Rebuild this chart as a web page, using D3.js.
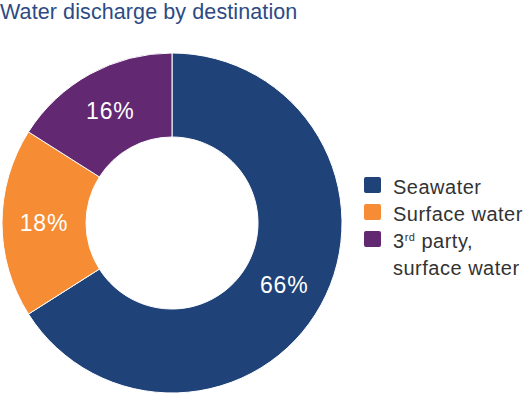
<!DOCTYPE html>
<html>
<head>
<meta charset="utf-8">
<script src="https://cdn.jsdelivr.net/npm/d3@7"></script>
<style>
  body { margin: 0; background: #fff; }
  svg { display: block; font-family: "Liberation Sans", Arial, sans-serif; }
</style>
</head>
<body>
<svg id="chart" width="525" height="395"></svg>
<script>
const categories = ["Seawater", "Surface water", "3rd party, surface water"];
const shares = [66, 18, 16];
const colors = ["#1f4279", "#f68c33", "#622871"];

const svg = d3.select("#chart");

svg.append("text")
  .attr("x", 0)
  .attr("y", 19)
  .attr("fill", "#2c4b85")
  .style("font-size", "21.5px")
  .style("letter-spacing", "0.1px")
  .text("Water discharge by destination");

const cx = 172, cy = 223, outerR = 170, innerR = 86;

const createPie = d3.pie().value(d => d.value).sort(null);
const createArc = d3.arc().innerRadius(innerR).outerRadius(outerR);
const labelArc = d3.arc().innerRadius(128).outerRadius(128);

const data = createPie(categories.map((c, i) => ({ name: c, value: shares[i] })));

const g = svg.append("g").attr("transform", `translate(${cx},${cy})`);

g.selectAll("path.arc")
  .data(data)
  .join("path")
  .attr("class", "arc")
  .attr("d", createArc)
  .attr("fill", (d, i) => colors[i])
  .attr("stroke", "#fff")
  .attr("stroke-width", 1);

g.selectAll("text.lbl")
  .data(data)
  .join("text")
  .attr("class", "lbl")
  .attr("transform", d => `translate(${labelArc.centroid(d)})`)
  .attr("text-anchor", "middle")
  .attr("dy", "0.36em")
  .attr("fill", "#fff")
  .style("font-size", "23px")
  .style("letter-spacing", "0.8px")
  .text(d => d.value + "%");

// legend
const legend = svg.append("g").attr("transform", "translate(364,177)");
const rowH = 27;

legend.selectAll("rect")
  .data(categories)
  .join("rect")
  .attr("x", 0)
  .attr("y", (d, i) => i * rowH)
  .attr("width", 17)
  .attr("height", 16)
  .attr("rx", 2)
  .attr("fill", (d, i) => colors[i]);

const legText = legend.selectAll("text")
  .data(categories)
  .join("text")
  .attr("x", 29)
  .attr("y", (d, i) => i * rowH + 17)
  .attr("fill", "#333")
  .style("font-size", "20px")
  .style("letter-spacing", "0.5px");

legText.each(function(d, i) {
  const t = d3.select(this);
  if (i === 2) {
    t.append("tspan").text("3");
    t.append("tspan").attr("dy", -7).style("font-size", "11px").text("rd");
    t.append("tspan").attr("dy", 7).text(" party,");
    t.append("tspan").attr("x", 29).attr("dy", 27).text("surface water");
  } else {
    t.text(d);
  }
});
</script>
</body>
</html>
